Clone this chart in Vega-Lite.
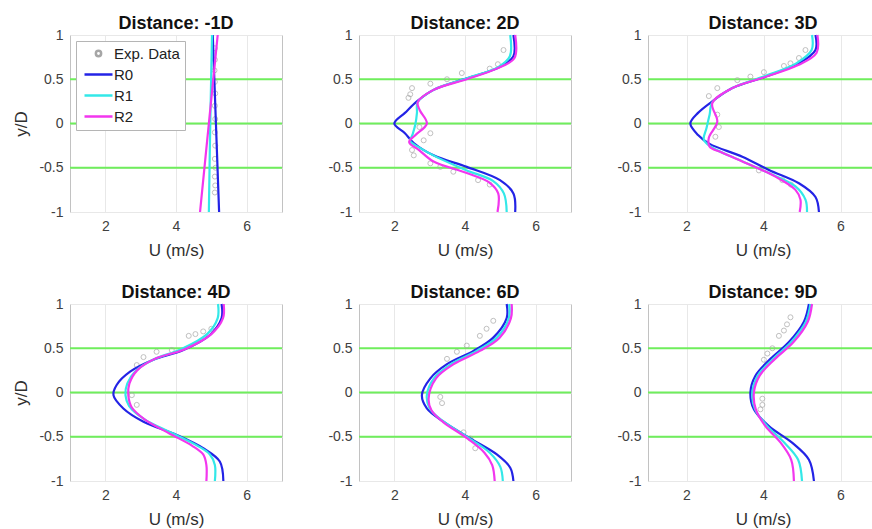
{
  "$schema": "https://vega.github.io/schema/vega-lite/v6.json",
  "padding": {"left": 12, "top": 14, "right": 0, "bottom": 0},
  "background": "white",
  "config": {
    "font": "Liberation Sans",
    "view": {"stroke": "#c2c2c2", "strokeWidth": 1},
    "axis": {"domain": false, "ticks": false, "grid": true, "gridColor": "#e8e8e8", "labelColor": "#404040", "titleColor": "#303030", "labelFontSize": 14, "titleFontSize": 17, "titleFontWeight": "normal", "labelPadding": 7},
    "axisX": {"titlePadding": 9},
    "axisY": {"titlePadding": 8},
    "title": {"fontSize": 18, "fontWeight": "bold", "offset": -5, "color": "#111111", "frame": "group"}
  },
  "datasets": {
    "g": [{"y": -0.5}, {"y": 0}, {"y": 0.5}],
    "c": [
      {"p":"-1D","s":"R0","u":5.04,"y":1},{"p":"-1D","s":"R0","u":5.13,"y":0},{"p":"-1D","s":"R0","u":5.22,"y":-1},
      {"p":"-1D","s":"R1","u":5.02,"y":1},{"p":"-1D","s":"R1","u":4.97,"y":0},{"p":"-1D","s":"R1","u":4.93,"y":-1},
      {"p":"-1D","s":"R2","u":5.18,"y":1},{"p":"-1D","s":"R2","u":4.93,"y":0},{"p":"-1D","s":"R2","u":4.68,"y":-1},

      {"p":"2D","s":"R0","u":5.37,"y":1},{"p":"2D","s":"R0","u":5.37,"y":0.76},{"p":"2D","s":"R0","u":4.99,"y":0.64},{"p":"2D","s":"R0","u":4.05,"y":0.51},{"p":"2D","s":"R0","u":3.11,"y":0.38},{"p":"2D","s":"R0","u":2.64,"y":0.25},{"p":"2D","s":"R0","u":2.3,"y":0.12},{"p":"2D","s":"R0","u":2.0,"y":0},{"p":"2D","s":"R0","u":2.3,"y":-0.11},{"p":"2D","s":"R0","u":2.55,"y":-0.22},{"p":"2D","s":"R0","u":3.11,"y":-0.36},{"p":"2D","s":"R0","u":4.05,"y":-0.49},{"p":"2D","s":"R0","u":4.99,"y":-0.64},{"p":"2D","s":"R0","u":5.37,"y":-0.79},{"p":"2D","s":"R0","u":5.42,"y":-1},
      {"p":"2D","s":"R1","u":5.28,"y":1},{"p":"2D","s":"R1","u":5.27,"y":0.76},{"p":"2D","s":"R1","u":4.95,"y":0.64},{"p":"2D","s":"R1","u":4.05,"y":0.51},{"p":"2D","s":"R1","u":3.11,"y":0.38},{"p":"2D","s":"R1","u":2.66,"y":0.24},{"p":"2D","s":"R1","u":2.64,"y":0.12},{"p":"2D","s":"R1","u":2.6,"y":0},{"p":"2D","s":"R1","u":2.52,"y":-0.12},{"p":"2D","s":"R1","u":2.45,"y":-0.2},{"p":"2D","s":"R1","u":2.7,"y":-0.27},{"p":"2D","s":"R1","u":3.2,"y":-0.38},{"p":"2D","s":"R1","u":4.05,"y":-0.53},{"p":"2D","s":"R1","u":4.8,"y":-0.65},{"p":"2D","s":"R1","u":5.1,"y":-0.79},{"p":"2D","s":"R1","u":5.18,"y":-1},
      {"p":"2D","s":"R2","u":5.42,"y":1},{"p":"2D","s":"R2","u":5.4,"y":0.74},{"p":"2D","s":"R2","u":4.9,"y":0.62},{"p":"2D","s":"R2","u":4.05,"y":0.5},{"p":"2D","s":"R2","u":3.11,"y":0.38},{"p":"2D","s":"R2","u":2.66,"y":0.24},{"p":"2D","s":"R2","u":2.72,"y":0.15},{"p":"2D","s":"R2","u":2.92,"y":0},{"p":"2D","s":"R2","u":2.6,"y":-0.13},{"p":"2D","s":"R2","u":2.42,"y":-0.21},{"p":"2D","s":"R2","u":2.7,"y":-0.3},{"p":"2D","s":"R2","u":3.11,"y":-0.43},{"p":"2D","s":"R2","u":4.05,"y":-0.56},{"p":"2D","s":"R2","u":4.7,"y":-0.67},{"p":"2D","s":"R2","u":4.94,"y":-0.79},{"p":"2D","s":"R2","u":4.92,"y":-1},

      {"p":"3D","s":"R0","u":5.35,"y":1},{"p":"3D","s":"R0","u":5.35,"y":0.83},{"p":"3D","s":"R0","u":4.92,"y":0.68},{"p":"3D","s":"R0","u":4.05,"y":0.53},{"p":"3D","s":"R0","u":3.19,"y":0.4},{"p":"3D","s":"R0","u":2.67,"y":0.25},{"p":"3D","s":"R0","u":2.3,"y":0.12},{"p":"3D","s":"R0","u":2.1,"y":0},{"p":"3D","s":"R0","u":2.3,"y":-0.13},{"p":"3D","s":"R0","u":2.6,"y":-0.23},{"p":"3D","s":"R0","u":3.45,"y":-0.375},{"p":"3D","s":"R0","u":4.14,"y":-0.525},{"p":"3D","s":"R0","u":4.92,"y":-0.675},{"p":"3D","s":"R0","u":5.35,"y":-0.83},{"p":"3D","s":"R0","u":5.44,"y":-1},
      {"p":"3D","s":"R1","u":5.26,"y":1},{"p":"3D","s":"R1","u":5.25,"y":0.83},{"p":"3D","s":"R1","u":4.85,"y":0.68},{"p":"3D","s":"R1","u":4.0,"y":0.53},{"p":"3D","s":"R1","u":3.19,"y":0.4},{"p":"3D","s":"R1","u":2.67,"y":0.24},{"p":"3D","s":"R1","u":2.6,"y":0.1},{"p":"3D","s":"R1","u":2.52,"y":-0.05},{"p":"3D","s":"R1","u":2.45,"y":-0.18},{"p":"3D","s":"R1","u":2.62,"y":-0.26},{"p":"3D","s":"R1","u":3.36,"y":-0.41},{"p":"3D","s":"R1","u":4.14,"y":-0.56},{"p":"3D","s":"R1","u":4.83,"y":-0.71},{"p":"3D","s":"R1","u":5.09,"y":-0.86},{"p":"3D","s":"R1","u":5.13,"y":-1},
      {"p":"3D","s":"R2","u":5.4,"y":1},{"p":"3D","s":"R2","u":5.38,"y":0.8},{"p":"3D","s":"R2","u":4.9,"y":0.66},{"p":"3D","s":"R2","u":4.0,"y":0.52},{"p":"3D","s":"R2","u":3.19,"y":0.4},{"p":"3D","s":"R2","u":2.67,"y":0.23},{"p":"3D","s":"R2","u":2.8,"y":0.02},{"p":"3D","s":"R2","u":2.58,"y":-0.16},{"p":"3D","s":"R2","u":2.6,"y":-0.26},{"p":"3D","s":"R2","u":2.93,"y":-0.33},{"p":"3D","s":"R2","u":3.62,"y":-0.46},{"p":"3D","s":"R2","u":4.31,"y":-0.6},{"p":"3D","s":"R2","u":4.83,"y":-0.75},{"p":"3D","s":"R2","u":4.96,"y":-0.86},{"p":"3D","s":"R2","u":4.94,"y":-1},

      {"p":"4D","s":"R0","u":5.29,"y":1},{"p":"4D","s":"R0","u":5.29,"y":0.84},{"p":"4D","s":"R0","u":4.96,"y":0.65},{"p":"4D","s":"R0","u":4.21,"y":0.48},{"p":"4D","s":"R0","u":3.36,"y":0.37},{"p":"4D","s":"R0","u":2.7,"y":0.235},{"p":"4D","s":"R0","u":2.32,"y":0.085},{"p":"4D","s":"R0","u":2.23,"y":-0.03},{"p":"4D","s":"R0","u":2.51,"y":-0.18},{"p":"4D","s":"R0","u":3.08,"y":-0.33},{"p":"4D","s":"R0","u":4.02,"y":-0.48},{"p":"4D","s":"R0","u":4.77,"y":-0.63},{"p":"4D","s":"R0","u":5.24,"y":-0.78},{"p":"4D","s":"R0","u":5.34,"y":-1},
      {"p":"4D","s":"R1","u":5.19,"y":1},{"p":"4D","s":"R1","u":5.18,"y":0.84},{"p":"4D","s":"R1","u":4.88,"y":0.66},{"p":"4D","s":"R1","u":4.15,"y":0.49},{"p":"4D","s":"R1","u":3.35,"y":0.37},{"p":"4D","s":"R1","u":2.85,"y":0.24},{"p":"4D","s":"R1","u":2.62,"y":0.1},{"p":"4D","s":"R1","u":2.57,"y":-0.03},{"p":"4D","s":"R1","u":2.67,"y":-0.15},{"p":"4D","s":"R1","u":3.1,"y":-0.3},{"p":"4D","s":"R1","u":3.9,"y":-0.46},{"p":"4D","s":"R1","u":4.6,"y":-0.6},{"p":"4D","s":"R1","u":4.96,"y":-0.7},{"p":"4D","s":"R1","u":5.1,"y":-0.82},{"p":"4D","s":"R1","u":5.1,"y":-1},
      {"p":"4D","s":"R2","u":5.35,"y":1},{"p":"4D","s":"R2","u":5.33,"y":0.84},{"p":"4D","s":"R2","u":5.0,"y":0.66},{"p":"4D","s":"R2","u":4.25,"y":0.49},{"p":"4D","s":"R2","u":3.4,"y":0.38},{"p":"4D","s":"R2","u":2.9,"y":0.25},{"p":"4D","s":"R2","u":2.68,"y":0.1},{"p":"4D","s":"R2","u":2.65,"y":-0.03},{"p":"4D","s":"R2","u":2.75,"y":-0.17},{"p":"4D","s":"R2","u":3.1,"y":-0.3},{"p":"4D","s":"R2","u":3.8,"y":-0.46},{"p":"4D","s":"R2","u":4.45,"y":-0.6},{"p":"4D","s":"R2","u":4.77,"y":-0.7},{"p":"4D","s":"R2","u":4.86,"y":-0.82},{"p":"4D","s":"R2","u":4.86,"y":-1},

      {"p":"6D","s":"R0","u":5.18,"y":1},{"p":"6D","s":"R0","u":5.18,"y":0.84},{"p":"6D","s":"R0","u":4.8,"y":0.62},{"p":"6D","s":"R0","u":4.24,"y":0.47},{"p":"6D","s":"R0","u":3.49,"y":0.32},{"p":"6D","s":"R0","u":3.02,"y":0.16},{"p":"6D","s":"R0","u":2.78,"y":-0.03},{"p":"6D","s":"R0","u":2.92,"y":-0.18},{"p":"6D","s":"R0","u":3.39,"y":-0.33},{"p":"6D","s":"R0","u":4.15,"y":-0.52},{"p":"6D","s":"R0","u":4.9,"y":-0.7},{"p":"6D","s":"R0","u":5.28,"y":-0.85},{"p":"6D","s":"R0","u":5.37,"y":-1},
      {"p":"6D","s":"R1","u":5.25,"y":1},{"p":"6D","s":"R1","u":5.24,"y":0.84},{"p":"6D","s":"R1","u":4.9,"y":0.62},{"p":"6D","s":"R1","u":4.33,"y":0.47},{"p":"6D","s":"R1","u":3.6,"y":0.32},{"p":"6D","s":"R1","u":3.12,"y":0.16},{"p":"6D","s":"R1","u":2.92,"y":-0.03},{"p":"6D","s":"R1","u":3.0,"y":-0.18},{"p":"6D","s":"R1","u":3.4,"y":-0.33},{"p":"6D","s":"R1","u":4.05,"y":-0.5},{"p":"6D","s":"R1","u":4.7,"y":-0.68},{"p":"6D","s":"R1","u":5.0,"y":-0.84},{"p":"6D","s":"R1","u":5.07,"y":-1},
      {"p":"6D","s":"R2","u":5.32,"y":1},{"p":"6D","s":"R2","u":5.3,"y":0.84},{"p":"6D","s":"R2","u":4.98,"y":0.62},{"p":"6D","s":"R2","u":4.42,"y":0.47},{"p":"6D","s":"R2","u":3.68,"y":0.32},{"p":"6D","s":"R2","u":3.18,"y":0.16},{"p":"6D","s":"R2","u":2.97,"y":-0.07},{"p":"6D","s":"R2","u":3.05,"y":-0.2},{"p":"6D","s":"R2","u":3.4,"y":-0.34},{"p":"6D","s":"R2","u":4.0,"y":-0.5},{"p":"6D","s":"R2","u":4.55,"y":-0.68},{"p":"6D","s":"R2","u":4.77,"y":-0.82},{"p":"6D","s":"R2","u":4.84,"y":-1},

      {"p":"9D","s":"R0","u":5.18,"y":1},{"p":"9D","s":"R0","u":5.05,"y":0.8},{"p":"9D","s":"R0","u":4.66,"y":0.57},{"p":"9D","s":"R0","u":4.18,"y":0.38},{"p":"9D","s":"R0","u":3.79,"y":0.19},{"p":"9D","s":"R0","u":3.66,"y":0},{"p":"9D","s":"R0","u":3.75,"y":-0.19},{"p":"9D","s":"R0","u":4.14,"y":-0.38},{"p":"9D","s":"R0","u":4.75,"y":-0.57},{"p":"9D","s":"R0","u":5.18,"y":-0.76},{"p":"9D","s":"R0","u":5.31,"y":-1},
      {"p":"9D","s":"R1","u":5.22,"y":1},{"p":"9D","s":"R1","u":5.1,"y":0.8},{"p":"9D","s":"R1","u":4.72,"y":0.57},{"p":"9D","s":"R1","u":4.25,"y":0.38},{"p":"9D","s":"R1","u":3.85,"y":0.19},{"p":"9D","s":"R1","u":3.71,"y":0},{"p":"9D","s":"R1","u":3.78,"y":-0.19},{"p":"9D","s":"R1","u":4.1,"y":-0.38},{"p":"9D","s":"R1","u":4.55,"y":-0.57},{"p":"9D","s":"R1","u":4.9,"y":-0.76},{"p":"9D","s":"R1","u":5.0,"y":-1},
      {"p":"9D","s":"R2","u":5.26,"y":1},{"p":"9D","s":"R2","u":5.15,"y":0.8},{"p":"9D","s":"R2","u":4.78,"y":0.57},{"p":"9D","s":"R2","u":4.3,"y":0.38},{"p":"9D","s":"R2","u":3.9,"y":0.19},{"p":"9D","s":"R2","u":3.75,"y":0},{"p":"9D","s":"R2","u":3.8,"y":-0.19},{"p":"9D","s":"R2","u":4.05,"y":-0.38},{"p":"9D","s":"R2","u":4.45,"y":-0.57},{"p":"9D","s":"R2","u":4.72,"y":-0.76},{"p":"9D","s":"R2","u":4.79,"y":-1}
    ],
    "e": [
      {"p":"-1D","s":"Exp. Data","u":5.1,"y":0.85},{"p":"-1D","s":"Exp. Data","u":5.1,"y":0.72},{"p":"-1D","s":"Exp. Data","u":5.09,"y":0.6},{"p":"-1D","s":"Exp. Data","u":5.1,"y":0.47},{"p":"-1D","s":"Exp. Data","u":5.11,"y":0.34},{"p":"-1D","s":"Exp. Data","u":5.1,"y":0.2},{"p":"-1D","s":"Exp. Data","u":5.11,"y":0.05},{"p":"-1D","s":"Exp. Data","u":5.1,"y":-0.1},{"p":"-1D","s":"Exp. Data","u":5.11,"y":-0.25},{"p":"-1D","s":"Exp. Data","u":5.1,"y":-0.4},{"p":"-1D","s":"Exp. Data","u":5.12,"y":-0.5},{"p":"-1D","s":"Exp. Data","u":5.1,"y":-0.6},{"p":"-1D","s":"Exp. Data","u":5.11,"y":-0.7},{"p":"-1D","s":"Exp. Data","u":5.1,"y":-0.78},
      {"p":"2D","s":"Exp. Data","u":5.09,"y":0.83},{"p":"2D","s":"Exp. Data","u":4.93,"y":0.67},{"p":"2D","s":"Exp. Data","u":4.7,"y":0.62},{"p":"2D","s":"Exp. Data","u":3.91,"y":0.57},{"p":"2D","s":"Exp. Data","u":3.49,"y":0.5},{"p":"2D","s":"Exp. Data","u":3.02,"y":0.45},{"p":"2D","s":"Exp. Data","u":2.5,"y":0.4},{"p":"2D","s":"Exp. Data","u":2.45,"y":0.33},{"p":"2D","s":"Exp. Data","u":2.4,"y":0.29},{"p":"2D","s":"Exp. Data","u":2.71,"y":-0.04},{"p":"2D","s":"Exp. Data","u":3.02,"y":-0.11},{"p":"2D","s":"Exp. Data","u":2.83,"y":-0.19},{"p":"2D","s":"Exp. Data","u":2.5,"y":-0.3},{"p":"2D","s":"Exp. Data","u":2.55,"y":-0.36},{"p":"2D","s":"Exp. Data","u":3.02,"y":-0.45},{"p":"2D","s":"Exp. Data","u":3.3,"y":-0.49},{"p":"2D","s":"Exp. Data","u":3.67,"y":-0.545},{"p":"2D","s":"Exp. Data","u":4.37,"y":-0.64},{"p":"2D","s":"Exp. Data","u":4.7,"y":-0.69},
      {"p":"3D","s":"Exp. Data","u":5.09,"y":0.83},{"p":"3D","s":"Exp. Data","u":4.92,"y":0.74},{"p":"3D","s":"Exp. Data","u":4.7,"y":0.68},{"p":"3D","s":"Exp. Data","u":4.53,"y":0.65},{"p":"3D","s":"Exp. Data","u":4.01,"y":0.58},{"p":"3D","s":"Exp. Data","u":3.66,"y":0.53},{"p":"3D","s":"Exp. Data","u":3.32,"y":0.49},{"p":"3D","s":"Exp. Data","u":2.8,"y":0.4},{"p":"3D","s":"Exp. Data","u":2.58,"y":0.31},{"p":"3D","s":"Exp. Data","u":2.8,"y":0.1},{"p":"3D","s":"Exp. Data","u":2.84,"y":-0.04},{"p":"3D","s":"Exp. Data","u":2.75,"y":-0.15},{"p":"3D","s":"Exp. Data","u":3.88,"y":-0.53},{"p":"3D","s":"Exp. Data","u":4.49,"y":-0.64},{"p":"3D","s":"Exp. Data","u":4.71,"y":-0.69},
      {"p":"4D","s":"Exp. Data","u":5.0,"y":0.72},{"p":"4D","s":"Exp. Data","u":4.77,"y":0.69},{"p":"4D","s":"Exp. Data","u":4.55,"y":0.66},{"p":"4D","s":"Exp. Data","u":4.36,"y":0.64},{"p":"4D","s":"Exp. Data","u":3.88,"y":0.48},{"p":"4D","s":"Exp. Data","u":3.45,"y":0.46},{"p":"4D","s":"Exp. Data","u":3.08,"y":0.4},{"p":"4D","s":"Exp. Data","u":2.89,"y":0.31},{"p":"4D","s":"Exp. Data","u":2.75,"y":-0.03},{"p":"4D","s":"Exp. Data","u":2.89,"y":-0.14},
      {"p":"6D","s":"Exp. Data","u":4.8,"y":0.81},{"p":"6D","s":"Exp. Data","u":4.61,"y":0.72},{"p":"6D","s":"Exp. Data","u":4.42,"y":0.64},{"p":"6D","s":"Exp. Data","u":4.05,"y":0.53},{"p":"6D","s":"Exp. Data","u":3.77,"y":0.46},{"p":"6D","s":"Exp. Data","u":3.49,"y":0.38},{"p":"6D","s":"Exp. Data","u":3.3,"y":-0.05},{"p":"6D","s":"Exp. Data","u":3.35,"y":-0.12},{"p":"6D","s":"Exp. Data","u":3.96,"y":-0.45},{"p":"6D","s":"Exp. Data","u":4.15,"y":-0.52},{"p":"6D","s":"Exp. Data","u":4.29,"y":-0.63},
      {"p":"9D","s":"Exp. Data","u":4.7,"y":0.85},{"p":"9D","s":"Exp. Data","u":4.61,"y":0.77},{"p":"9D","s":"Exp. Data","u":4.53,"y":0.7},{"p":"9D","s":"Exp. Data","u":4.4,"y":0.64},{"p":"9D","s":"Exp. Data","u":4.23,"y":0.5},{"p":"9D","s":"Exp. Data","u":4.1,"y":0.44},{"p":"9D","s":"Exp. Data","u":4.01,"y":0.37},{"p":"9D","s":"Exp. Data","u":3.97,"y":-0.07},{"p":"9D","s":"Exp. Data","u":3.97,"y":-0.14},{"p":"9D","s":"Exp. Data","u":3.92,"y":-0.19}
    ]
  },
  "resolve": {"scale": {"x": "independent", "y": "independent"}, "legend": {"color": "independent"}},
  "columns": 3,
  "spacing": {"row": 92, "column": 77},
  "bounds": "flush",
  "concat": [
    {
      "width": 212, "height": 177, "title": "Distance: -1D",
      "layer": [
        {"data": {"name": "g"}, "mark": {"type": "rule", "color": "#6fee5c", "strokeWidth": 2}, "encoding": {"y": {"field": "y", "type": "quantitative", "scale": {"domain": [-1, 1], "nice": false}, "axis": {"values": [-1, -0.5, 0, 0.5, 1], "labelExpr": "toString(datum.value)", "title": "y/D"}}}},
        {"data": {"name": "e"}, "transform": [{"filter": "datum.p == '-1D'"}], "mark": {"type": "point", "shape": "circle", "filled": false, "size": 25, "strokeWidth": 1},
         "encoding": {"x": {"field": "u", "type": "quantitative", "scale": {"domain": [1, 7], "nice": false, "zero": false}, "axis": {"values": [2, 4, 6], "title": "U (m/s)"}}, "y": {"field": "y", "type": "quantitative", "axis": {"values": [-1, -0.5, 0, 0.5, 1], "labelExpr": "toString(datum.value)", "title": "y/D"}}, "stroke": {"value": "#a6a6a6"}}},
        {"data": {"name": "c"}, "transform": [{"filter": "datum.p == '-1D'"}], "mark": {"type": "line", "strokeWidth": 2.2, "interpolate": "catmull-rom"},
         "encoding": {"x": {"field": "u", "type": "quantitative", "axis": {"values": [2, 4, 6], "title": "U (m/s)"}}, "y": {"field": "y", "type": "quantitative", "axis": {"values": [-1, -0.5, 0, 0.5, 1], "labelExpr": "toString(datum.value)", "title": "y/D"}}, "order": {"field": "y", "type": "quantitative"},
          "color": {"field": "s", "type": "nominal", "scale": {"domain": ["Exp. Data", "R0", "R1", "R2"], "range": ["#a6a6a6", "#2323e6", "#33e8e8", "#f236ee"]},
            "legend": {"title": null, "orient": "top-left", "offset": 6, "labelFontSize": 15, "labelColor": "#222222", "symbolType": "stroke", "symbolSize": 100, "symbolStrokeWidth": 2.5, "symbolOffset": 10, "labelOffset": 8, "padding": 5, "rowPadding": 5, "fillColor": "#ffffff", "strokeColor": "#b5b5b5",
              "encode": {"symbols": {"update": {"shape": {"signal": "datum.value === 'Exp. Data' ? 'circle' : 'M-2.8,0H2.8'"}, "size": {"signal": "datum.value === 'Exp. Data' ? 28 : 100"}}}}}}}}
      ]
    },
    {
      "width": 212, "height": 177, "title": "Distance: 2D",
      "layer": [
        {"data": {"name": "g"}, "mark": {"type": "rule", "color": "#6fee5c", "strokeWidth": 2}, "encoding": {"y": {"field": "y", "type": "quantitative", "scale": {"domain": [-1, 1], "nice": false}, "axis": {"values": [-1, -0.5, 0, 0.5, 1], "labelExpr": "toString(datum.value)", "title": null}}}},
        {"data": {"name": "e"}, "transform": [{"filter": "datum.p == '2D'"}], "mark": {"type": "point", "shape": "circle", "filled": false, "size": 25, "strokeWidth": 1},
         "encoding": {"x": {"field": "u", "type": "quantitative", "scale": {"domain": [1, 7], "nice": false, "zero": false}, "axis": {"values": [2, 4, 6], "title": "U (m/s)"}}, "y": {"field": "y", "type": "quantitative", "axis": {"values": [-1, -0.5, 0, 0.5, 1], "labelExpr": "toString(datum.value)", "title": null}}, "stroke": {"value": "#a6a6a6"}}},
        {"data": {"name": "c"}, "transform": [{"filter": "datum.p == '2D'"}], "mark": {"type": "line", "strokeWidth": 2.2, "interpolate": "catmull-rom"},
         "encoding": {"x": {"field": "u", "type": "quantitative", "axis": {"values": [2, 4, 6], "title": "U (m/s)"}}, "y": {"field": "y", "type": "quantitative", "axis": {"values": [-1, -0.5, 0, 0.5, 1], "labelExpr": "toString(datum.value)", "title": null}}, "order": {"field": "y", "type": "quantitative"}, "color": {"field": "s", "type": "nominal", "scale": {"domain": ["Exp. Data", "R0", "R1", "R2"], "range": ["#a6a6a6", "#2323e6", "#33e8e8", "#f236ee"]}, "legend": null}}}
      ]
    },
    {
      "width": 226, "height": 177, "title": {"text": "Distance: 3D", "dx": 2},
      "layer": [
        {"data": {"name": "g"}, "mark": {"type": "rule", "color": "#6fee5c", "strokeWidth": 2}, "encoding": {"y": {"field": "y", "type": "quantitative", "scale": {"domain": [-1, 1], "nice": false}, "axis": {"values": [-1, -0.5, 0, 0.5, 1], "labelExpr": "toString(datum.value)", "title": null}}}},
        {"data": {"name": "e"}, "transform": [{"filter": "datum.p == '3D'"}], "mark": {"type": "point", "shape": "circle", "filled": false, "size": 25, "strokeWidth": 1},
         "encoding": {"x": {"field": "u", "type": "quantitative", "scale": {"domain": [1, 6.87], "nice": false, "zero": false}, "axis": {"values": [2, 4, 6], "title": "U (m/s)", "titleX": 115}}, "y": {"field": "y", "type": "quantitative", "axis": {"values": [-1, -0.5, 0, 0.5, 1], "labelExpr": "toString(datum.value)", "title": null}}, "stroke": {"value": "#a6a6a6"}}},
        {"data": {"name": "c"}, "transform": [{"filter": "datum.p == '3D'"}], "mark": {"type": "line", "strokeWidth": 2.2, "interpolate": "catmull-rom"},
         "encoding": {"x": {"field": "u", "type": "quantitative", "axis": {"values": [2, 4, 6], "title": "U (m/s)", "titleX": 115}}, "y": {"field": "y", "type": "quantitative", "axis": {"values": [-1, -0.5, 0, 0.5, 1], "labelExpr": "toString(datum.value)", "title": null}}, "order": {"field": "y", "type": "quantitative"}, "color": {"field": "s", "type": "nominal", "scale": {"domain": ["Exp. Data", "R0", "R1", "R2"], "range": ["#a6a6a6", "#2323e6", "#33e8e8", "#f236ee"]}, "legend": null}}}
      ]
    },
    {
      "width": 212, "height": 177, "title": "Distance: 4D",
      "layer": [
        {"data": {"name": "g"}, "mark": {"type": "rule", "color": "#6fee5c", "strokeWidth": 2}, "encoding": {"y": {"field": "y", "type": "quantitative", "scale": {"domain": [-1, 1], "nice": false}, "axis": {"values": [-1, -0.5, 0, 0.5, 1], "labelExpr": "toString(datum.value)", "title": "y/D"}}}},
        {"data": {"name": "e"}, "transform": [{"filter": "datum.p == '4D'"}], "mark": {"type": "point", "shape": "circle", "filled": false, "size": 25, "strokeWidth": 1},
         "encoding": {"x": {"field": "u", "type": "quantitative", "scale": {"domain": [1, 7], "nice": false, "zero": false}, "axis": {"values": [2, 4, 6], "title": "U (m/s)"}}, "y": {"field": "y", "type": "quantitative", "axis": {"values": [-1, -0.5, 0, 0.5, 1], "labelExpr": "toString(datum.value)", "title": "y/D"}}, "stroke": {"value": "#a6a6a6"}}},
        {"data": {"name": "c"}, "transform": [{"filter": "datum.p == '4D'"}], "mark": {"type": "line", "strokeWidth": 2.2, "interpolate": "catmull-rom"},
         "encoding": {"x": {"field": "u", "type": "quantitative", "axis": {"values": [2, 4, 6], "title": "U (m/s)"}}, "y": {"field": "y", "type": "quantitative", "axis": {"values": [-1, -0.5, 0, 0.5, 1], "labelExpr": "toString(datum.value)", "title": "y/D"}}, "order": {"field": "y", "type": "quantitative"}, "color": {"field": "s", "type": "nominal", "scale": {"domain": ["Exp. Data", "R0", "R1", "R2"], "range": ["#a6a6a6", "#2323e6", "#33e8e8", "#f236ee"]}, "legend": null}}}
      ]
    },
    {
      "width": 212, "height": 177, "title": "Distance: 6D",
      "layer": [
        {"data": {"name": "g"}, "mark": {"type": "rule", "color": "#6fee5c", "strokeWidth": 2}, "encoding": {"y": {"field": "y", "type": "quantitative", "scale": {"domain": [-1, 1], "nice": false}, "axis": {"values": [-1, -0.5, 0, 0.5, 1], "labelExpr": "toString(datum.value)", "title": null}}}},
        {"data": {"name": "e"}, "transform": [{"filter": "datum.p == '6D'"}], "mark": {"type": "point", "shape": "circle", "filled": false, "size": 25, "strokeWidth": 1},
         "encoding": {"x": {"field": "u", "type": "quantitative", "scale": {"domain": [1, 7], "nice": false, "zero": false}, "axis": {"values": [2, 4, 6], "title": "U (m/s)"}}, "y": {"field": "y", "type": "quantitative", "axis": {"values": [-1, -0.5, 0, 0.5, 1], "labelExpr": "toString(datum.value)", "title": null}}, "stroke": {"value": "#a6a6a6"}}},
        {"data": {"name": "c"}, "transform": [{"filter": "datum.p == '6D'"}], "mark": {"type": "line", "strokeWidth": 2.2, "interpolate": "catmull-rom"},
         "encoding": {"x": {"field": "u", "type": "quantitative", "axis": {"values": [2, 4, 6], "title": "U (m/s)"}}, "y": {"field": "y", "type": "quantitative", "axis": {"values": [-1, -0.5, 0, 0.5, 1], "labelExpr": "toString(datum.value)", "title": null}}, "order": {"field": "y", "type": "quantitative"}, "color": {"field": "s", "type": "nominal", "scale": {"domain": ["Exp. Data", "R0", "R1", "R2"], "range": ["#a6a6a6", "#2323e6", "#33e8e8", "#f236ee"]}, "legend": null}}}
      ]
    },
    {
      "width": 226, "height": 177, "title": {"text": "Distance: 9D", "dx": 2},
      "layer": [
        {"data": {"name": "g"}, "mark": {"type": "rule", "color": "#6fee5c", "strokeWidth": 2}, "encoding": {"y": {"field": "y", "type": "quantitative", "scale": {"domain": [-1, 1], "nice": false}, "axis": {"values": [-1, -0.5, 0, 0.5, 1], "labelExpr": "toString(datum.value)", "title": null}}}},
        {"data": {"name": "e"}, "transform": [{"filter": "datum.p == '9D'"}], "mark": {"type": "point", "shape": "circle", "filled": false, "size": 25, "strokeWidth": 1},
         "encoding": {"x": {"field": "u", "type": "quantitative", "scale": {"domain": [1, 6.87], "nice": false, "zero": false}, "axis": {"values": [2, 4, 6], "title": "U (m/s)", "titleX": 115}}, "y": {"field": "y", "type": "quantitative", "axis": {"values": [-1, -0.5, 0, 0.5, 1], "labelExpr": "toString(datum.value)", "title": null}}, "stroke": {"value": "#a6a6a6"}}},
        {"data": {"name": "c"}, "transform": [{"filter": "datum.p == '9D'"}], "mark": {"type": "line", "strokeWidth": 2.2, "interpolate": "catmull-rom"},
         "encoding": {"x": {"field": "u", "type": "quantitative", "axis": {"values": [2, 4, 6], "title": "U (m/s)", "titleX": 115}}, "y": {"field": "y", "type": "quantitative", "axis": {"values": [-1, -0.5, 0, 0.5, 1], "labelExpr": "toString(datum.value)", "title": null}}, "order": {"field": "y", "type": "quantitative"}, "color": {"field": "s", "type": "nominal", "scale": {"domain": ["Exp. Data", "R0", "R1", "R2"], "range": ["#a6a6a6", "#2323e6", "#33e8e8", "#f236ee"]}, "legend": null}}}
      ]
    }
  ]
}
